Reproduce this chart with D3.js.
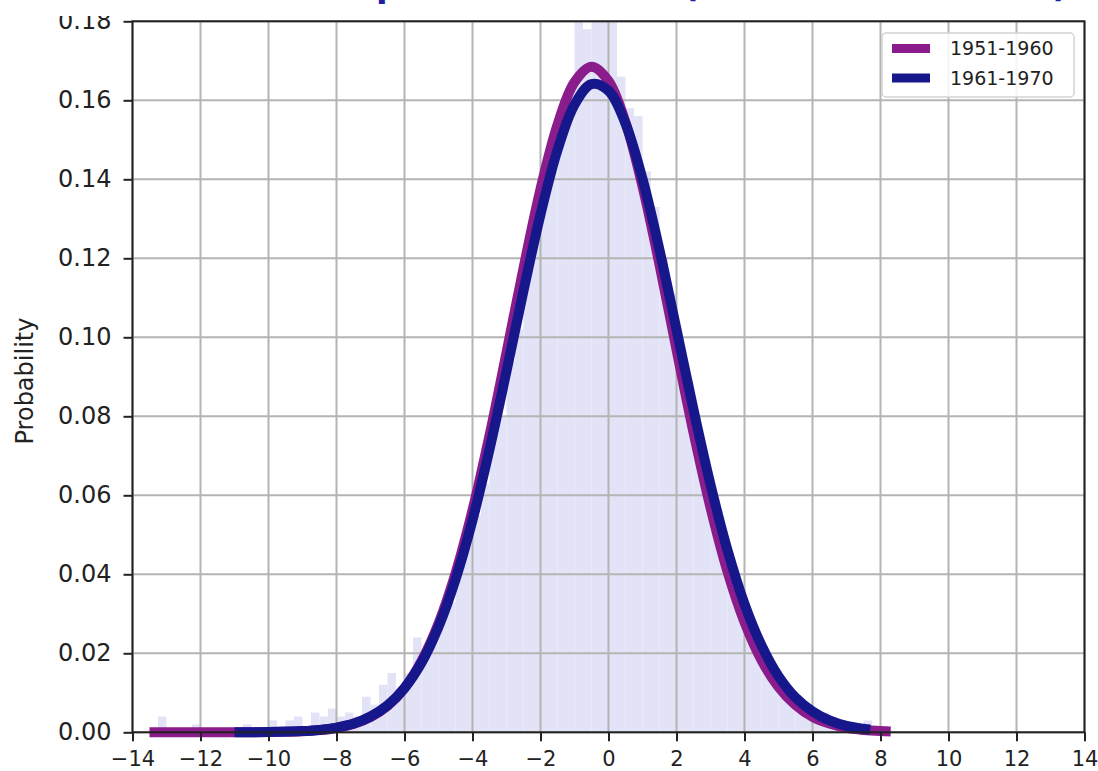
<!DOCTYPE html>
<html>
<head>
<meta charset="utf-8">
<script src="https://cdn.jsdelivr.net/npm/d3@7"></script>
<style>
  body { margin: 0; background: #fff; }
  svg { display: block; }
  text { font-family: "DejaVu Sans", sans-serif; fill: #222; }
</style>
</head>
<body>
<div id="chart"></div>
<script>
// tick labels
const xTicks = [-14, -12, -10, -8, -6, -4, -2, 0, 2, 4, 6, 8, 10, 12, 14]
const yTicks = [0, 0.02, 0.04, 0.06, 0.08, 0.10, 0.12, 0.14, 0.16, 0.18]

// legend
const series = ["1951-1960", "1961-1970"]
const seriesColors = ["#8b1c8c", "#17178c"]

// fitted curve 1951-1960
const x5160 = [-13.5, -12, -10.5, -9.5, -9, -8.5, -8, -7.5, -7, -6.5, -6, -5.5, -5, -4.5, -4, -3.5, -3, -2.5, -2, -1.5,
  -1, -0.5, 0, 0.5, 1, 1.5, 2, 2.5, 3, 3.5, 4, 4.5, 5, 5.5, 6, 6.5, 7, 7.5, 8, 8.3]
const y5160 = [0, 0, 0.00002, 0.00012, 0.00026, 0.00055, 0.0011, 0.0021, 0.00385, 0.0067, 0.0112, 0.018, 0.0275, 0.0402, 0.0562, 0.0751, 0.0961, 0.1175, 0.1375, 0.1538,
  0.1646, 0.1685, 0.1649, 0.1544, 0.1382, 0.1184, 0.0969, 0.0759, 0.0569, 0.0407, 0.0279, 0.0183, 0.0115, 0.0069, 0.0039, 0.0022, 0.0011, 0.0006, 0.0003, 0.0002]

// fitted curve 1961-1970
const x6170 = [-11, -10, -9, -8.5, -8, -7.5, -7, -6.5, -6, -5.5, -5, -4.5, -4, -3.5, -3, -2.5, -2, -1.5, -1, -0.5,
  0, 0.5, 1, 1.5, 2, 2.5, 3, 3.5, 4, 4.5, 5, 5.5, 6, 6.5, 7, 7.5, 7.7]
const y6170 = [0.00001, 0.00006, 0.0003, 0.0006, 0.0012, 0.0022, 0.0040, 0.0068, 0.0112, 0.0176, 0.0267, 0.0387, 0.0537, 0.0716, 0.0914, 0.1118, 0.1311, 0.1474, 0.1589, 0.1641,
  0.1624, 0.1541, 0.1401, 0.1221, 0.1020, 0.0817, 0.0627, 0.0461, 0.0325, 0.0220, 0.0142, 0.0088, 0.0053, 0.0030, 0.0016, 0.0009, 0.0007]

// histogram (left edge of each bin, bin height)
const binWidth = 0.25
const binX0 = [-13.25, -12.25, -11.5, -10.75, -10, -9.5, -9.25, -8.75, -8.5, -8.25,
  -8, -7.75, -7.5, -7.25, -7, -6.75, -6.5, -6.25, -6, -5.75, -5.5, -5.25, -5, -4.75, -4.5, -4.25,
  -4, -3.75, -3.5, -3.25, -3, -2.75, -2.5, -2.25, -2, -1.75, -1.5, -1.25, -1, -0.75, -0.5, -0.25,
  0, 0.25, 0.5, 0.75, 1, 1.25, 1.5, 1.75, 2, 2.25, 2.5, 2.75, 3, 3.25, 3.5, 3.75,
  4, 4.25, 4.5, 4.75, 5, 5.25, 5.5, 5.75, 6, 6.25, 6.5, 6.75, 7, 7.5]
const binHeight = [0.004, 0.002, 0.001, 0.002, 0.003, 0.003, 0.004, 0.005, 0.004, 0.006,
  0.004, 0.005, 0.004, 0.009, 0.007, 0.012, 0.015, 0.011, 0.015, 0.024, 0.02, 0.024, 0.031, 0.033, 0.041, 0.047,
  0.055, 0.063, 0.075, 0.08, 0.094, 0.102, 0.116, 0.124, 0.136, 0.142, 0.154, 0.163, 0.188, 0.178, 0.195, 0.182,
  0.19, 0.166, 0.158, 0.156, 0.142, 0.133, 0.12, 0.111, 0.097, 0.089, 0.077, 0.068, 0.058, 0.05, 0.042, 0.035,
  0.029, 0.024, 0.019, 0.016, 0.012, 0.01, 0.008, 0.006, 0.005, 0.005, 0.003, 0.002, 0.002, 0.003]

const W = 1098, H = 771
const margin = {top: 21.3, right: 13.5, bottom: 38.7, left: 132.5}
const width = W - margin.left - margin.right,
      height = H - margin.top - margin.bottom

const svg = d3.select("#chart").append("svg")
    .attr("width", W)
    .attr("height", H)

// title, mostly above the top edge of the picture
const title = svg.append("text")
    .attr("y", -3)
    .style("font-size", "34px")
    .style("font-weight", "bold")
    .style("fill", "#1f1fa0")
title.append("tspan").attr("x", 130).attr("textLength", 514).text("Distribution of temperature anomalies")
title.append("tspan").attr("x", 683).attr("textLength", 385).text("(1951-1960 vs 1961-1970)")

const g = svg.append("g")
    .attr("transform", "translate(" + margin.left + "," + margin.top + ")")

svg.append("clipPath").attr("id", "clip")
  .append("rect").attr("width", width).attr("height", height)

const x = d3.scaleLinear().domain([-14, 14]).range([0, width])
const y = d3.scaleLinear().domain([0, 0.18]).range([height, 0])

// histogram
const bins = binX0.map((d, i) => ({x0: d, h: binHeight[i]}))
g.append("g")
    .attr("clip-path", "url(#clip)")
  .selectAll("rect")
  .data(bins)
  .enter()
  .append("rect")
    .attr("x", d => x(d.x0))
    .attr("width", d => x(d.x0 + binWidth) - x(d.x0))
    .attr("y", d => y(d.h))
    .attr("height", d => y(0) - y(d.h))
    .style("fill", "#e3e3f7")

// grid
g.append("g")
  .selectAll("line")
  .data(xTicks)
  .enter().append("line")
    .attr("x1", d => x(d)).attr("x2", d => x(d))
    .attr("y1", 0).attr("y2", height)
    .style("stroke", "#b4b4b4").style("stroke-width", 2)
g.append("g")
  .selectAll("line")
  .data(yTicks)
  .enter().append("line")
    .attr("x1", 0).attr("x2", width)
    .attr("y1", d => y(d)).attr("y2", d => y(d))
    .style("stroke", "#b4b4b4").style("stroke-width", 2)

// curves
const curves = [
  x5160.map((d, i) => [d, y5160[i]]),
  x6170.map((d, i) => [d, y6170[i]])
]
const line = d3.line()
    .x(d => x(d[0]))
    .y(d => y(d[1]))
    .curve(d3.curveCatmullRom.alpha(0.5))

g.selectAll("path.curve")
  .data(curves)
  .enter()
  .append("path")
    .attr("class", "curve")
    .attr("d", line)
    .style("fill", "none")
    .style("stroke", (d, i) => seriesColors[i])
    .style("stroke-width", 10)
    .style("stroke-linejoin", "round")

// axes
const xAxis = g.append("g")
    .attr("transform", "translate(0," + height + ")")
    .call(d3.axisBottom(x).tickValues(xTicks).tickSize(9).tickPadding(10).tickFormat(d3.format("d")))
xAxis.selectAll("text").style("font-size", "21px").style("fill", "#222")

const yAxis = g.append("g")
    .call(d3.axisLeft(y).tickValues(yTicks).tickSize(9).tickPadding(12).tickFormat(d3.format(".2f")))
yAxis.selectAll("text").style("font-size", "24px").style("fill", "#222")

g.selectAll(".domain").remove()
g.selectAll(".tick line").style("stroke", "#222").style("stroke-width", 2)

// frame
g.append("rect")
    .attr("width", width)
    .attr("height", height)
    .style("fill", "none")
    .style("stroke", "#222")
    .style("stroke-width", 2)

// top of the picture is cut off
svg.append("rect")
    .attr("x", 0).attr("y", 0)
    .attr("width", 125).attr("height", 16)
    .style("fill", "#fff")

// y label
svg.append("text")
    .attr("transform", "translate(33,381) rotate(-90)")
    .attr("text-anchor", "middle")
    .style("font-size", "24px")
    .text("Probability")

// legend
const legend = svg.append("g")
legend.append("rect")
    .attr("x", 882).attr("y", 33)
    .attr("width", 192).attr("height", 64)
    .attr("rx", 4)
    .style("fill", "#fff").style("fill-opacity", 0.85)
    .style("stroke", "#d4d4d4").style("stroke-width", 1.5)
const item = legend.selectAll("g.item")
  .data(series)
  .enter().append("g")
    .attr("class", "item")
    .attr("transform", (d, i) => "translate(0," + (48.5 + i * 29.5) + ")")
item.append("line")
    .attr("x1", 892).attr("x2", 930)
    .style("stroke", (d, i) => seriesColors[i])
    .style("stroke-width", 9)
item.append("text")
    .attr("x", 950)
    .attr("dy", "0.36em")
    .style("font-size", "19px")
    .text(d => d)
</script>
</body>
</html>
